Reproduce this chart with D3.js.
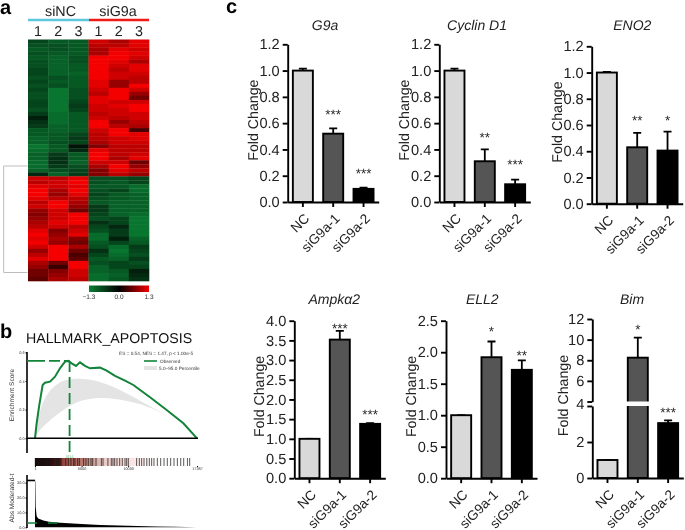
<!DOCTYPE html>
<html>
<head>
<meta charset="utf-8">
<script src="https://cdn.jsdelivr.net/npm/d3@7"></script>
<style>
  html, body { margin: 0; padding: 0; background: #fff; overflow: hidden; }
  svg { display: block; background: #fff; filter: blur(.35px); }
  text { font-family: "Liberation Sans", Arial, sans-serif; text-rendering: geometricPrecision; }
</style>
</head>
<body>
<svg id="chart" width="685" height="530"></svg>
<script>
// heatmap values, one row per gene: siNC 1-3 then siG9a 1-3
const heatRows = [
  [-.7,-.9,-.9,1.1,.9,1.2],[-.8,-.8,-.9,1.0,1.0,1.2],[-.9,-.8,-.9,.9,1.2,1.1],[-.8,-.9,-.9,.9,1.3,1.2],
  [-.9,-1.0,-.8,1.3,1.3,1.1],[-.8,-1.0,-.8,1.3,1.2,.9],[-.8,-1.0,-.9,1.3,1.1,1.2],[-.7,-1.0,-.9,1.3,1.0,1.2],
  [-.7,-1.0,-1.0,1.3,1.1,1.1],[-.8,-.8,-.9,1.3,1.1,1.0],[-.7,-.9,-.9,1.2,.8,1.0],[-.8,-.8,-.9,1.2,.8,1.3],
  [-.7,-1.2,-.8,1.1,1.3,1.1],[-.8,-1.2,-.8,1.0,1.3,.8],[-.8,-1.2,-.8,1.2,1.3,.6],[-.7,-1.2,-.7,1.2,1.1,1.1],
  [-.7,-1.2,-.6,1.1,1.2,1.3],[-.8,-1.2,-.7,1.1,1.1,1.3],[-.6,-1.1,-.9,1.0,1.1,1.1],[-.3,-1.1,-.9,1.1,1.0,1.1],
  [-.5,-1.1,-.9,1.3,.8,1.0],[-.6,-1.0,-.9,1.3,1.0,.9],[-.9,-1.0,-.9,1.1,1.3,.4],[-.9,-.9,-.7,1.0,1.3,1.2],
  [-1.0,-.9,-.6,1.0,1.1,1.2],[-1.0,-.8,-.7,.9,1.1,1.1],[-1.2,-.9,-.2,.7,1.0,1.0],[-1.1,-.9,-.4,1.2,1.0,1.0],
  [-1.0,-.6,-.9,1.3,1.0,1.1],[-1.0,-.5,-.9,1.3,.9,1.2],[-1.1,-.5,-1.0,1.1,1.1,.6],[-1.1,-.6,-.8,.9,1.3,.8],
  [-1.0,-.8,-.7,.7,1.2,1.0],[-.4,-1.0,-.6,.7,1.0,.8],
  [1.1,1.0,1.2,-.8,-.8,-.7],[1.0,1.1,1.3,-.8,-.9,-.7],[1.2,1.1,1.2,-.9,-.9,-1.1],[1.3,.9,1.3,-.8,-.7,-1.1],
  [1.3,.8,1.2,-.7,-.9,-1.0],[1.2,1.0,1.0,-.8,-.9,-1.0],[1.0,1.3,.9,-.9,-1.0,-1.0],[1.1,1.3,.8,-.6,-1.0,-1.0],
  [.8,1.1,.6,-.6,-1.0,-1.0],[.7,1.1,1.3,-.7,-1.0,-1.1],[.8,1.1,1.3,-.8,-.7,-1.2],[.9,1.2,1.3,-.5,-.7,-1.2],
  [1.0,1.1,1.0,-.7,-.4,-1.2],[1.2,.7,1.1,-.8,-.6,-1.2],[1.3,.8,1.2,-1.1,-.6,-1.2],[1.2,.9,.7,-1.1,-.3,-1.0],
  [1.3,.8,.6,-.9,-.7,-.9],[1.1,1.3,.9,-.8,-1.1,-.6],[.8,1.3,.6,-.5,-1.2,-.7],[1.0,1.3,.4,-.7,-1.1,-.8],
  [1.2,1.3,.5,-.9,-1.0,-.6],[.9,.6,1.3,-.8,-.7,-.8],[.8,.3,1.3,-1.0,-.7,-.7],[.6,.7,1.1,-1.0,-.9,-.3],
  [.6,.8,1.1,-1.1,-1.0,-.4],[.5,.9,1.0,-1.1,-.9,-.5]
];
const heatColumns = ['1', '2', '3', '1 ', '2 ', '3 '];

// GSEA enrichment curve and permutation band
const esRanks = [1,179,465,823,1073,1610,2147,2683,3220,3578,3936,4400,4830,5367,5904,6977,7693,8587,9660,10555,12344,14133,15922,17387];
const esValues = [0,.105,.233,.372,.388,.395,.430,.488,.535,.540,.523,.505,.530,.505,.488,.493,.472,.435,.402,.372,.286,.198,.105,0];
const bandRanks = [1,360,1250,2300,3400,4830,6260,7690,9480,11270,13060,14490];
const bandUpper = [0,.175,.314,.380,.412,.419,.407,.379,.326,.263,.198,.147];
const bandLower = [0,.047,.105,.163,.216,.263,.281,.281,.267,.240,.198,.147];
const hitRanks = [30,60,110,160,210,260,330,380,440,500,570,640,690,760,830,880,950,1020,1100,1170,1240,1300,1390,1460,
  1530,1620,1700,1790,1850,1950,2050,2140,2250,2330,2420,2520,2620,2700,2800,3300,3580,3860,4150,4290,4580,4760,5220,
  5470,5720,6010,6190,6550,7120,7300,7830,8190,8370,8550,8800,9090,9370,9660,9840,10020,10910,11200,11450,11700,12000,
  12270,12520,12770,13130,13490,13850,14200,14560,14920,15280,15640,15960,16360,16600];
const hitShades = [[0,'#3a0505'],[.1,'#5c1210'],[.2,'#a5544c'],[.3,'#b87a70'],[.42,'#e8c8c4'],[.6,'#fbe4e4'],[.75,'#ffffff'],[1,'#ffffff']];
const metricRanks = [1,40,70,180,350,900,1500,2700,5000,7000,10000,13000,15000,17387];
const metricValues = [32,30,14,7.5,6,4.5,3.8,3,2.2,1.6,1.1,.6,.3,0];

// qPCR bars
const groups = ['NC', 'siG9a-1', 'siG9a-2'];
const barFills = ['#d9d9d9', '#555555', '#000000'];
const genes = ['G9a', 'Cyclin D1', 'ENO2', 'Ampkα2', 'ELL2', 'Bim'];
const means = [[1,.52,.10],[1,.31,.135],[1,.43,.405],[1,3.52,1.38],[1,1.92,1.72],[1,8.25,3.05]];
const errTops = [[1.015,.56,.11],[1.015,.40,.17],[1.005,.54,.55],[1,3.74,1.40],[1,2.17,1.87],[1,10.2,3.2]];
const stars = [['','***','***'],['','**','***'],['','**','*'],['','***','***'],['','*','**'],['','*','***']];
const starLevels = [[0,.69,.24],[0,.515,.305],[0,.66,.66],[0,3.88,1.68],[0,2.37,2.0],[0,11.3,3.8]];
const yMax = [1.2, 1.2, 1.2, 4, 2.5];
const yTicks = [
  [0,.2,.4,.6,.8,1,1.2],[0,.2,.4,.6,.8,1,1.2],[0,.2,.4,.6,.8,1,1.2],
  [0,.5,1,1.5,2,2.5,3,3.5,4],[0,.5,1,1.5,2,2.5]
];
const bimLowTicks = [0, 2, 4];
const bimHighTicks = [4, 6, 8, 10, 12];

const svg = d3.select('#chart');
const green = '#12843a';

function panelLetter(label, x, y) {
  svg.append('text').attr('x', x).attr('y', y).attr('font-size', 20).attr('font-weight', 'bold').text(label);
}
panelLetter('a', 0, 14);
panelLetter('b', 0, 338);
panelLetter('c', 226, 13);

// ---- a: heatmap
function drawHeatmap() {
  const x = d3.scaleBand().domain(heatColumns).range([28, 149]);
  const y = d3.scaleBand().domain(d3.range(heatRows.length)).range([39.5, 281]);
  const color = d3.scaleLinear().domain([-1.3, 0, 1.3]).range(['#0a8034', '#000000', '#f50000']);

  heatRows.forEach((row, i) => {
    svg.append('g').selectAll('rect').data(row).join('rect')
      .attr('x', (d, j) => x(heatColumns[j]))
      .attr('y', y(i))
      .attr('width', x.bandwidth() + .3)
      .attr('height', y.bandwidth() + .3)
      .attr('fill', d => color(d));
  });

  svg.selectAll('.col').data(heatColumns).join('text')
    .attr('x', d => x(d) + x.bandwidth() / 2).attr('y', 36)
    .attr('text-anchor', 'middle').attr('font-size', 14.3).attr('fill', '#222')
    .text(d => d.trim());

  svg.append('line').attr('x1', 28).attr('x2', 89).attr('y1', 20).attr('y2', 20).attr('stroke', '#5cc8dc').attr('stroke-width', 2.5);
  svg.append('line').attr('x1', 89).attr('x2', 149).attr('y1', 20).attr('y2', 20).attr('stroke', '#f01a1a').attr('stroke-width', 2.5);
  svg.append('text').attr('x', 60.5).attr('y', 16).attr('text-anchor', 'middle').attr('font-size', 14.3).attr('fill', '#222').text('siNC');
  svg.append('text').attr('x', 118).attr('y', 16).attr('text-anchor', 'middle').attr('font-size', 14.3).attr('fill', '#222').text('siG9a');

  // dendrogram bracket
  svg.append('path').attr('d', 'M27.5,166H3.7V272.5H27.5').attr('fill', 'none').attr('stroke', '#bdbdbd').attr('stroke-width', 1);

  // colour key
  const grad = svg.append('defs').append('linearGradient').attr('id', 'key');
  [-1.3, 0, 1.3].forEach((v, i) => grad.append('stop').attr('offset', i / 2).attr('stop-color', color(v)));
  svg.append('rect').attr('x', 89).attr('y', 285.5).attr('width', 60).attr('height', 6.5).attr('fill', 'url(#key)');
  const keyScale = d3.scaleLinear().domain([-1.3, 1.3]).range([89, 149]);
  svg.selectAll('.key').data([-1.3, 0, 1.3]).join('text')
    .attr('x', d => keyScale(d)).attr('y', 299)
    .attr('text-anchor', 'middle').attr('font-size', 6.5).attr('fill', '#333')
    .text(d => d3.format('.1f')(d));
}

// ---- b: GSEA
function drawGsea() {
  const x = d3.scaleLinear().domain([1, 17387]).range([35, 197]);
  const y = d3.scaleLinear().domain([0, .6]).range([438.3, 352.3]);
  const y2 = d3.scaleLinear().domain([0, 30]).range([527.3, 482.7]);
  const dash = '11,5';

  svg.append('text').attr('x', 26).attr('y', 343).attr('font-size', 14.2).attr('fill', '#111').text('HALLMARK_APOPTOSIS');

  const band = d3.area().x((d, i) => x(bandRanks[i])).y0((d, i) => y(bandLower[i])).y1((d, i) => y(bandUpper[i])).curve(d3.curveBasis);
  svg.append('path').datum(bandRanks).attr('d', band).attr('fill', '#e4e4e4');

  const esLine = d3.line().x((d, i) => x(esRanks[i])).y((d, i) => y(esValues[i]));
  svg.append('path').datum(esRanks).attr('d', esLine).attr('fill', 'none').attr('stroke', green).attr('stroke-width', 2);

  svg.append('line').attr('x1', 27).attr('x2', 198).attr('y1', y(0)).attr('y2', y(0)).attr('stroke', '#000').attr('stroke-width', 1.4);
  svg.append('line').attr('x1', 27).attr('x2', 27).attr('y1', 352).attr('y2', 453).attr('stroke', '#000').attr('stroke-width', 1.6);

  svg.append('line').attr('x1', 27).attr('x2', x(3712)).attr('y1', y(.54)).attr('y2', y(.54))
    .attr('stroke', green).attr('stroke-width', 1.8).attr('stroke-dasharray', '18,4,11,4');
  svg.append('line').attr('x1', x(3712)).attr('x2', x(3712)).attr('y1', y(.54)).attr('y2', 454)
    .attr('stroke', green).attr('stroke-width', 1.8).attr('stroke-dasharray', dash);
  svg.append('text').attr('x', x(3712)).attr('y', 457.5).attr('text-anchor', 'middle').attr('font-size', 3.5).attr('fill', '#4caf6a').text('3712');

  const axisText = s => s.selectAll('text').attr('font-size', 3.8).attr('fill', '#333');
  const yAxis = svg.append('g').attr('transform', 'translate(27,0)')
    .call(d3.axisLeft(y).tickValues([0, .2, .4, .6]).tickFormat(d3.format('.1f')).tickSize(1.5).tickPadding(1));
  yAxis.select('.domain').remove();
  axisText(yAxis);
  svg.append('text').attr('transform', 'translate(14,395) rotate(-90)').attr('text-anchor', 'middle').attr('font-size', 6.6).attr('fill', '#333').text('Enrichment Score');

  svg.append('text').attr('x', 193).attr('y', 355).attr('text-anchor', 'end').attr('font-size', 4.7).attr('fill', '#333').text('ES = 0.54, NES = 1.47, p < 1.00e-5');
  svg.append('line').attr('x1', 144).attr('x2', 157).attr('y1', 361).attr('y2', 361).attr('stroke', green).attr('stroke-width', 1.6);
  svg.append('text').attr('x', 160).attr('y', 363).attr('font-size', 4.7).attr('fill', '#333').text('Observed');
  svg.append('rect').attr('x', 144).attr('y', 366).attr('width', 13).attr('height', 4).attr('fill', '#e4e4e4');
  svg.append('text').attr('x', 159).attr('y', 369.5).attr('font-size', 4.7).attr('fill', '#333').text('5.0−95.0 Percentile');

  // barcode of gene set hits
  const shade = svg.select('defs').append('linearGradient').attr('id', 'hitShade');
  hitShades.forEach(s => shade.append('stop').attr('offset', s[0]).attr('stop-color', s[1]));
  svg.append('rect').attr('x', 35).attr('y', 458).attr('width', 162).attr('height', 8).attr('fill', 'url(#hitShade)');
  svg.append('g').selectAll('line').data(hitRanks).join('line')
    .attr('x1', d => x(d)).attr('x2', d => x(d)).attr('y1', 458).attr('y2', 466)
    .attr('stroke', '#111').attr('stroke-width', .7);
  const rankAxis = svg.append('g').attr('transform', 'translate(0,466)')
    .call(d3.axisBottom(x).tickValues([1, 5000, 10000, 17387]).tickFormat(d3.format('d')).tickSize(1).tickPadding(0.5));
  rankAxis.select('.domain').remove();
  axisText(rankAxis);

  // ranked metric
  const metric = d3.area().x((d, i) => x(metricRanks[i])).y0(y2(0)).y1((d, i) => y2(metricValues[i]));
  svg.append('path').datum(metricRanks).attr('d', metric).attr('fill', '#000');
  svg.append('line').attr('x1', 27).attr('x2', 27).attr('y1', 475).attr('y2', 528).attr('stroke', '#000').attr('stroke-width', 1.6);
  svg.append('line').attr('x1', 27).attr('x2', 35).attr('y1', y2(31.5)).attr('y2', y2(31.5)).attr('stroke', '#000').attr('stroke-width', 1.6);
  svg.append('line').attr('x1', 27).attr('x2', x(2400)).attr('y1', y2(2.9)).attr('y2', y2(2.9))
    .attr('stroke', green).attr('stroke-width', 1.6).attr('stroke-dasharray', '10,11');
  const y2Axis = svg.append('g').attr('transform', 'translate(27,0)')
    .call(d3.axisLeft(y2).tickValues([0, 10, 20, 30]).tickFormat(d3.format('.1f')).tickSize(1.5).tickPadding(1));
  y2Axis.select('.domain').remove();
  axisText(y2Axis);
  svg.append('text').attr('transform', 'translate(14,498) rotate(-90)').attr('text-anchor', 'middle').attr('font-size', 6.6).attr('fill', '#333').text('Abs Moderated-t');
}

// ---- c: bars
const panelAxisX = [287.7, 439.3, 591.7, 294.3, 446, 592.3];
const panelTop = [44.3, 44.3, 46.3, 320.7, 320.7, 319];
const panelBottom = [202, 202, 203.7, 478.2, 478.2, 478];
const titleX = [325, 477, 632.3, 334.3, 482.3, 632];
const titleY = [30, 30, 30, 304, 304, 304];
const labelOffset = [-35, -35, -35, -35, -35, -29];

function styleAxis(g) {
  g.selectAll('.domain, line').attr('stroke', '#000').attr('stroke-width', 1.9);
  g.selectAll('text').attr('fill', '#222');
}

function drawBars(k) {
  const ax = panelAxisX[k], y0 = panelBottom[k], top = panelTop[k];
  const x = d3.scaleBand().domain(groups).range([ax, ax + 91]).paddingInner(.34).paddingOuter(.17);
  const isBim = genes[k] === 'Bim';
  const low = d3.scaleLinear().domain([0, 4]).range([478, 406]);
  const high = d3.scaleLinear().domain([4, 12]).range([401.5, 319]);
  const single = isBim ? null : d3.scaleLinear().domain([0, yMax[k]]).range([y0, top]);
  const y = v => isBim ? (v <= 4 ? low(v) : high(v)) : single(v);

  const g = svg.append('g');
  const row = groups.map((name, i) => ({ name, mean: means[k][i], err: errTops[k][i], star: stars[k][i], level: starLevels[k][i], fill: barFills[i] }));

  g.selectAll('.err').data(row).join('path')
    .attr('d', d => `M${x(d.name) + x.bandwidth() / 2},${y(d.mean)}V${y(d.err)}m-4,0h8`)
    .attr('fill', 'none').attr('stroke', '#000').attr('stroke-width', 1.8);

  g.selectAll('.bar').data(row).join('rect')
    .attr('x', d => x(d.name))
    .attr('y', d => y(d.mean))
    .attr('width', x.bandwidth())
    .attr('height', d => y0 - y(d.mean))
    .attr('fill', d => d.fill)
    .attr('stroke', '#000').attr('stroke-width', 1.9);

  if (isBim) {
    g.append('rect').attr('x', x('siG9a-1') - 2).attr('width', x.bandwidth() + 4)
      .attr('y', high(4)).attr('height', low(4) - high(4)).attr('fill', '#fff');
  }

  g.selectAll('.star').data(row.filter(d => d.star)).join('text')
    .attr('x', d => x(d.name) + x.bandwidth() / 2)
    .attr('y', d => y(d.level))
    .attr('dy', 7.4)
    .attr('text-anchor', 'middle').attr('font-size', 13.5).attr('fill', '#222')
    .text(d => d.star);

  const xAxis = g.append('g').attr('transform', `translate(0,${y0})`)
    .call(d3.axisBottom(x).tickSize(5).tickSizeOuter(0));
  styleAxis(xAxis);
  xAxis.selectAll('text')
    .attr('font-size', 13.6)
    .attr('text-anchor', 'end')
    .attr('transform', 'translate(-5,5) rotate(-45)')
    .attr('dy', '0.7em');

  if (isBim) {
    const lowAxis = g.append('g').attr('transform', `translate(${ax},0)`)
      .call(d3.axisLeft(low).tickValues(bimLowTicks).tickSize(5).tickSizeOuter(0).tickFormat(d3.format('d')));
    const highAxis = g.append('g').attr('transform', `translate(${ax},0)`)
      .call(d3.axisLeft(high).tickValues(bimHighTicks).tickSize(5).tickSizeOuter(0).tickFormat(d => d === 4 ? '' : d));
    [lowAxis, highAxis].forEach(a => { styleAxis(a); a.selectAll('text').attr('font-size', 14.6); });
    lowAxis.selectAll('.tick').filter(d => d === 4).select('text').attr('dy', '0.15em');
  } else {
    const yAxis = g.append('g').attr('transform', `translate(${ax},0)`)
      .call(d3.axisLeft(single).tickValues(yTicks[k]).tickSize(5).tickSizeOuter(0).tickFormat(d3.format('.1f')));
    styleAxis(yAxis);
    yAxis.selectAll('text').attr('font-size', 14.6);
  }

  g.append('text').attr('x', titleX[k]).attr('y', titleY[k])
    .attr('text-anchor', 'middle').attr('font-size', 14).attr('font-style', 'italic').attr('fill', '#222')
    .text(genes[k]);

  g.append('text')
    .attr('transform', `translate(${ax + labelOffset[k] + 5},${(top + y0) / 2 - 3}) rotate(-90)`)
    .attr('text-anchor', 'middle').attr('font-size', 14.2).attr('fill', '#222')
    .text('Fold Change');
}

drawHeatmap();
drawGsea();
genes.forEach((d, k) => drawBars(k));
</script>
</body>
</html>
